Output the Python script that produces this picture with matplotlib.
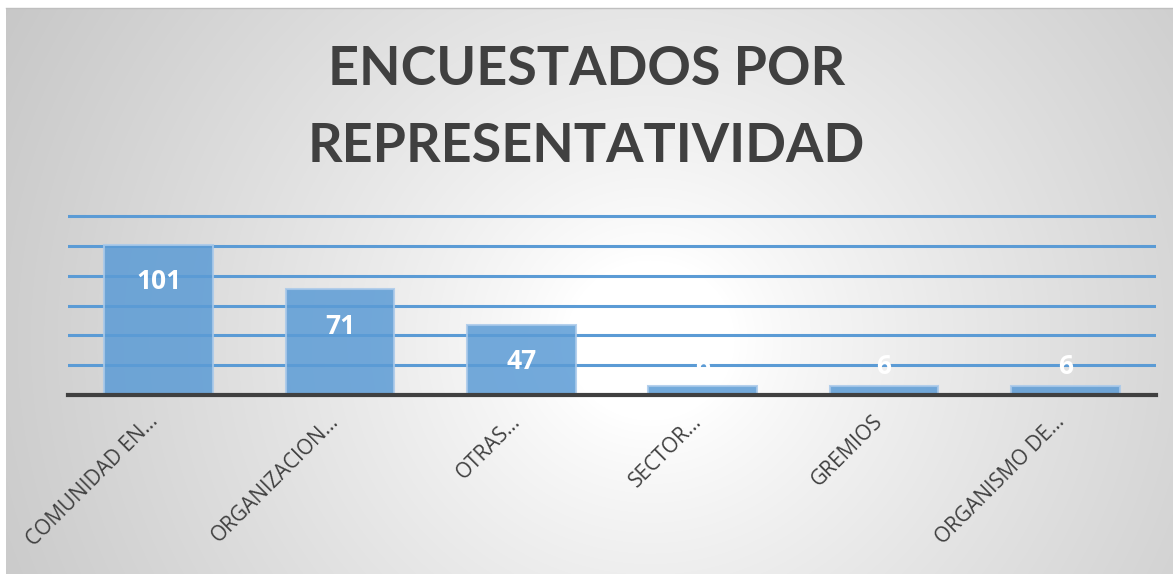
import numpy as np
import matplotlib.pyplot as plt
from matplotlib.transforms import ScaledTranslation

categorias = ['COMUNIDAD EN…', 'ORGANIZACION…', 'OTRAS…', 'SECTOR…', 'GREMIOS', 'ORGANISMO DE…']
encuestados = [101, 71, 47, 6, 6, 6]
ticks_y = [20, 40, 60, 80, 100, 120]

W, H = 1173, 574
fig = plt.figure(figsize=(W / 100, H / 100), dpi=100)
fig.patch.set_facecolor('white')

# fondo con degradado radial (blanco al centro, gris en los bordes)
bg = fig.add_axes([6 / W, 0, 1 - 6 / W, 1 - 8 / H])
yy, xx = np.mgrid[8:H, 6:W]
d = np.sqrt(((xx - 650) / 1.05) ** 2 + (yy - 340) ** 2)
v = 255 - 57 * np.clip((d - 80) / 640, 0, 1) ** 0.85
img = np.dstack([v, v, v]) / 255
bg.imshow(img, aspect='auto', interpolation='bilinear')
bg.axis('off')

# linea gris del borde superior
fig.add_artist(plt.Line2D([6 / W, 1], [1 - 8 / H, 1 - 8 / H], color='#bfbfbf', lw=1))

px = 1.485
ax = fig.add_axes([68 / W, (H - 394.7) / H, 1088 / W, 122 * px / H])
ax.set_facecolor('none')
x = np.arange(len(categorias))

for t in ticks_y:
    ax.axhline(t, color='#5b9bd5', lw=2.2, zorder=1)

ax.bar(x, encuestados, width=0.6, color='#5b9bd5', alpha=0.85,
       edgecolor='#a9c9ea', linewidth=1.5, zorder=2)
ax.axhline(0, color='#404040', lw=3, zorder=3, clip_on=False)

for xi, val in zip(x, encuestados):
    off = -37 if val > 20 else 19
    ax.annotate(str(val), (xi, val), xytext=(0, off * 0.72), textcoords='offset points',
                ha='center', va='center', color='white', fontsize=19,
                fontweight='bold', family='Open Sans', zorder=4)

ax.set_xlim(-0.5, len(categorias) - 0.5)
ax.set_ylim(0, 122)
ax.set_yticks([])
ax.set_xticks(x)
ax.set_xticklabels(categorias, rotation=45, ha='right', va='center', rotation_mode='anchor',
                   fontsize=15, color='#404040', family='Open Sans')
ax.tick_params(axis='x', length=0, pad=0)
shift = ScaledTranslation(-4 / 100, -24 / 100, fig.dpi_scale_trans)
for lab in ax.get_xticklabels():
    lab.set_transform(lab.get_transform() + shift)
for s in ax.spines.values():
    s.set_visible(False)

fig.text(0.5, 1 - 69.5 / H, 'ENCUESTADOS POR', ha='center', va='center',
         fontsize=38.8, fontweight='bold', color='#404040', family='Lato')
fig.text(0.5, 1 - 146 / H, 'REPRESENTATIVIDAD', ha='center', va='center',
         fontsize=38.8, fontweight='bold', color='#404040', family='Lato')

fig.savefig('out.png', dpi=100)
